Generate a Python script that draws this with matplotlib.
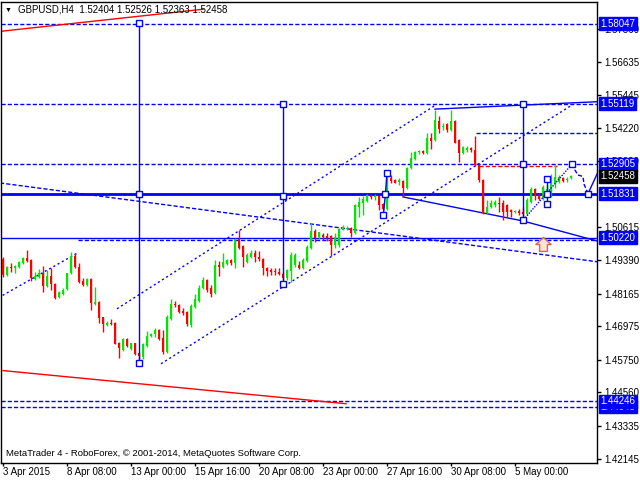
import matplotlib
matplotlib.use('Agg')
import matplotlib.pyplot as plt
import matplotlib.transforms as mtransforms
from matplotlib.path import Path

# GBPUSD H4 bars
opens = [1.4945, 1.4886, 1.4915, 1.4912, 1.4915, 1.4930, 1.4948, 1.4941, 1.4872, 1.4879,
         1.4894, 1.4846, 1.4883, 1.4854, 1.4806, 1.4817, 1.4835, 1.4894, 1.4956, 1.4915,
         1.4864, 1.4850, 1.4872, 1.4780, 1.4788, 1.4733, 1.4704, 1.4711, 1.4711, 1.4638,
         1.4613, 1.4653, 1.4616, 1.4638, 1.4602, 1.4587, 1.4627, 1.4664, 1.4671, 1.4686,
         1.4656, 1.4605, 1.4726, 1.4780, 1.4777, 1.4755, 1.4751, 1.4704, 1.4770, 1.4791,
         1.4839, 1.4868, 1.4839, 1.4821, 1.4923, 1.4915, 1.4926, 1.4941, 1.4930, 1.5018,
         1.4992, 1.4934, 1.4952, 1.4967, 1.4952, 1.4945, 1.4912, 1.4905, 1.4901, 1.4897,
         1.4890, 1.4875, 1.4901, 1.4923, 1.4923, 1.4912, 1.4937, 1.4985, 1.5047, 1.5025,
         1.5032, 1.5029, 1.5029, 1.4996, 1.4996, 1.5051, 1.5054, 1.5058, 1.5040, 1.5134,
         1.5149, 1.5156, 1.5175, 1.5171, 1.5175, 1.5146, 1.5127, 1.5240, 1.5233, 1.5226,
         1.5229, 1.5204, 1.5277, 1.5310, 1.5335, 1.5339, 1.5332, 1.5386, 1.5379, 1.5448,
         1.5426, 1.5437, 1.5416, 1.5448, 1.5379, 1.5332, 1.5343, 1.5350, 1.5343, 1.5288,
         1.5233, 1.5113, 1.5134, 1.5142, 1.5149, 1.5149, 1.5142, 1.5123, 1.5116, 1.5120,
         1.5116, 1.5109, 1.5153, 1.5200, 1.5178, 1.5164, 1.5178, 1.5171, 1.5222, 1.5226,
         1.5240, 1.5233, 1.52404]
highs = [1.4952, 1.4919, 1.4930, 1.4923, 1.4937, 1.4952, 1.4978, 1.4945, 1.4897, 1.4908,
         1.4919, 1.4905, 1.4912, 1.4857, 1.4828, 1.4839, 1.4894, 1.4970, 1.4967, 1.4930,
         1.4875, 1.4875, 1.4875, 1.4842, 1.4791, 1.4733, 1.4718, 1.4726, 1.4715, 1.4642,
         1.4656, 1.4656, 1.4638, 1.4638, 1.4605, 1.4638, 1.4682, 1.4675, 1.4693, 1.4689,
         1.4686, 1.4740, 1.4799, 1.4791, 1.4780, 1.4766, 1.4755, 1.4780, 1.4817, 1.4850,
         1.4879, 1.4872, 1.4850, 1.4941, 1.4937, 1.4967, 1.4945, 1.4945, 1.5021, 1.5051,
         1.4996, 1.4967, 1.4978, 1.4978, 1.4974, 1.4948, 1.4915, 1.4912, 1.4912, 1.4912,
         1.4897, 1.4908, 1.4970, 1.4967, 1.4937, 1.4948, 1.4996, 1.5076, 1.5054, 1.5043,
         1.5040, 1.5040, 1.5032, 1.5040, 1.5058, 1.5069, 1.5065, 1.5061, 1.5146, 1.5171,
         1.5175, 1.5182, 1.5182, 1.5182, 1.5178, 1.5149, 1.5251, 1.5251, 1.5237, 1.5240,
         1.5233, 1.5280, 1.5335, 1.5339, 1.5343, 1.5343, 1.5405, 1.5405, 1.5489, 1.5467,
         1.5441, 1.5441, 1.5489, 1.5452, 1.5383, 1.5357, 1.5357, 1.5353, 1.5394, 1.5291,
         1.5237, 1.5160, 1.5160, 1.5160, 1.5171, 1.5160, 1.5146, 1.5127, 1.5123, 1.5127,
         1.5134, 1.5167, 1.5207, 1.5204, 1.5186, 1.5215, 1.5215, 1.5255, 1.5288, 1.5251,
         1.5244, 1.5244, 1.52526]
lows = [1.4879, 1.4883, 1.4897, 1.4894, 1.4912, 1.4926, 1.4934, 1.4864, 1.4868, 1.4875,
        1.4824, 1.4842, 1.4832, 1.4799, 1.4802, 1.4813, 1.4832, 1.4890, 1.4912, 1.4857,
        1.4846, 1.4846, 1.4759, 1.4777, 1.4711, 1.4678, 1.4700, 1.4704, 1.4634, 1.4583,
        1.4609, 1.4624, 1.4613, 1.4594, 1.4580, 1.4580, 1.4624, 1.4660, 1.4660, 1.4649,
        1.4598, 1.4602, 1.4722, 1.4770, 1.4748, 1.4740, 1.4700, 1.4697, 1.4766, 1.4788,
        1.4835, 1.4824, 1.4806, 1.4817, 1.4883, 1.4912, 1.4923, 1.4923, 1.4912, 1.4981,
        1.4915, 1.4930, 1.4948, 1.4934, 1.4937, 1.4886, 1.4883, 1.4886, 1.4886, 1.4886,
        1.4868, 1.4868, 1.4861, 1.4915, 1.4908, 1.4908, 1.4934, 1.4981, 1.5007, 1.5018,
        1.5014, 1.5010, 1.4956, 1.4985, 1.4988, 1.5051, 1.5051, 1.5025, 1.5036, 1.5098,
        1.5105, 1.5153, 1.5164, 1.5160, 1.5123, 1.5123, 1.5123, 1.5222, 1.5222, 1.5215,
        1.5171, 1.5200, 1.5273, 1.5306, 1.5328, 1.5328, 1.5328, 1.5346, 1.5375, 1.5405,
        1.5416, 1.5408, 1.5412, 1.5368, 1.5299, 1.5328, 1.5335, 1.5335, 1.5284, 1.5226,
        1.5109, 1.5109, 1.5131, 1.5134, 1.5116, 1.5087, 1.5098, 1.5098, 1.5113, 1.5105,
        1.5098, 1.5105, 1.5149, 1.5160, 1.5160, 1.5160, 1.5167, 1.5171, 1.5204, 1.5222,
        1.5226, 1.5226, 1.52363]
closes = [1.4886, 1.4915, 1.4912, 1.4919, 1.4934, 1.4948, 1.4937, 1.4875, 1.4883, 1.4894,
          1.4846, 1.4883, 1.4854, 1.4802, 1.4824, 1.4832, 1.4894, 1.4956, 1.4915, 1.4861,
          1.4850, 1.4872, 1.4784, 1.4786, 1.4729, 1.4707, 1.4711, 1.4707, 1.4634, 1.4620,
          1.4653, 1.4627, 1.4638, 1.4598, 1.4591, 1.4634, 1.4664, 1.4671, 1.4686, 1.4653,
          1.4605, 1.4733, 1.4780, 1.4777, 1.4751, 1.4748, 1.4707, 1.4773, 1.4799, 1.4839,
          1.4868, 1.4832, 1.4817, 1.4923, 1.4915, 1.4934, 1.4941, 1.4930, 1.5018, 1.4985,
          1.4952, 1.4959, 1.4967, 1.4952, 1.4945, 1.4912, 1.4901, 1.4897, 1.4897, 1.4890,
          1.4875, 1.4905, 1.4959, 1.4959, 1.4912, 1.4941, 1.4988, 1.5047, 1.5021, 1.5043,
          1.5025, 1.5021, 1.4996, 1.5025, 1.5054, 1.5061, 1.5058, 1.5040, 1.5142, 1.5153,
          1.5164, 1.5178, 1.5171, 1.5175, 1.5142, 1.5127, 1.5240, 1.5229, 1.5222, 1.5233,
          1.5204, 1.5277, 1.5313, 1.5335, 1.5339, 1.5332, 1.5386, 1.5375, 1.5452, 1.5419,
          1.5430, 1.5416, 1.5448, 1.5368, 1.5332, 1.5353, 1.5350, 1.5343, 1.5288, 1.5233,
          1.5113, 1.5134, 1.5149, 1.5153, 1.5146, 1.5116, 1.5116, 1.5116, 1.5120, 1.5113,
          1.5109, 1.5160, 1.5200, 1.5175, 1.5164, 1.5207, 1.5200, 1.5226, 1.5244, 1.5244,
          1.5229, 1.5237, 1.52458]

date_pos = [0, 16, 32, 48, 64, 80, 96, 112, 128]
date_labels = ['3 Apr 2015', '8 Apr 08:00', '13 Apr 00:00', '15 Apr 16:00', '20 Apr 08:00',
               '23 Apr 00:00', '27 Apr 16:00', '30 Apr 08:00', '5 May 00:00']
price_ticks = [1.42145, 1.43335, 1.44560, 1.45750, 1.46975, 1.48165, 1.49390, 1.50615,
               1.53030, 1.54220, 1.55445, 1.56635, 1.57860]

# levels drawn on the chart
dash_levels = [1.58047, 1.55119, 1.52905, 1.44246, 1.44045]
support = 1.51831
low_level = 1.50220
tagged_levels = [1.44045, 1.44246, 1.50220, 1.51831, 1.52905, 1.55119, 1.58047]
last_price = 1.52458

# trend lines / channel anchors (bar index, price)
red_top_x, red_top_y = [-0.25, 50], [1.5777, 1.5857]
red_bot_x, red_bot_y = [0, 85.75], [1.4536, 1.4415]
chan_low_x, chan_low_y = [39.5, 142.25], [1.4561, 1.5507]
chan_up_x, chan_up_y = [28.5, 108.5], [1.4762, 1.5510]
chan_left_x, chan_left_y = [-0.1, 18.75], [1.4811, 1.4967]
desc_x, desc_y = [-0.75, 148.5], [1.5222, 1.4934]
flat_x, flat_y = [18.75, 148.5], [1.5013, 1.5013]
mid_x, mid_y = [118.25, 148.5], [1.5405, 1.5405]
red_dash_x, red_dash_y = [119, 138.5], [1.5285, 1.5285]
fall_x, fall_y = [100, 130, 148.5], [1.5171, 1.5083, 1.5010]
top_x, top_y = [108, 148.5], [1.5492, 1.5519]
# vertical targets with square handles
targets = [([34, 34, 34], [1.5805, 1.5182, 1.4565]),
           ([70.1, 70.1, 70.1], [1.5512, 1.5175, 1.4853]),
           ([96, 95.6, 95.1], [1.5259, 1.5182, 1.5105]),
           ([130.1, 130.1, 130.1], [1.5512, 1.5291, 1.5087]),
           ([136, 136, 136], [1.5237, 1.5183, 1.5145])]
proj_up_x, proj_up_y = [130.1, 142.25], [1.5087, 1.5291]
proj_wave_x = [142.25, 143, 143.75, 144.5, 145, 145.25, 146.25]
proj_wave_y = [1.5291, 1.5269, 1.5251, 1.5248, 1.5244, 1.5218, 1.5183]
proj_end_x, proj_end_y = [146.25, 149], [1.5183, 1.5270]
arrow_x, arrow_y = 135, 1.5000

plt.rcParams['font.family'] = ['Liberation Sans', 'DejaVu Sans']
plt.rcParams['lines.scale_dashes'] = False

blue = '#0000ff'
bull = '#00e600'
bear = '#ff0000'
dash = (0, (3, 1.5))
dots = (0, (1.5, 2))

fig = plt.figure(figsize=(6.4, 4.8), dpi=100)
ax = fig.add_axes([1 / 640, 17 / 480, 596 / 640, 461 / 480])

# candles
for i in range(len(closes)):
    o, h, l, c = opens[i], highs[i], lows[i], closes[i]
    col = bull if c >= o else bear
    ax.vlines(i, l, h, color=col, lw=1, zorder=3)
    ax.bar(i, max(abs(c - o), 0.00012), bottom=min(o, c), width=0.72,
           color=col, lw=0, zorder=3)

# horizontal levels
for lv in dash_levels:
    ax.axhline(lv, color=blue, lw=1, ls=dash, zorder=2)
ax.axhline(support, color=blue, lw=2, zorder=2)
ax.axhline(low_level, color=blue, lw=1, zorder=2)

# trend lines
ax.plot(red_top_x, red_top_y, color=bear, lw=1)
ax.plot(red_bot_x, red_bot_y, color=bear, lw=1)
ax.plot(chan_low_x, chan_low_y, color=blue, lw=1, ls=dots)
ax.plot(chan_up_x, chan_up_y, color=blue, lw=1, ls=dots)
ax.plot(chan_left_x, chan_left_y, color=blue, lw=1, ls=dots)
ax.plot(desc_x, desc_y, color=blue, lw=1, ls=dash)
ax.plot(flat_x, flat_y, color=blue, lw=1, ls=dash)
ax.plot(mid_x, mid_y, color=blue, lw=1, ls=dash)
ax.plot(red_dash_x, red_dash_y, color=bear, lw=1, ls=dash)
ax.plot(fall_x, fall_y, color=blue, lw=1)
ax.plot(top_x, top_y, color=blue, lw=1)

for xs, ys in targets:
    ax.plot(xs, ys, color=blue, lw=1, marker='s', ms=4, mfc='white', mec=blue, mew=1, zorder=5)
ax.plot(proj_up_x, proj_up_y, color=blue, lw=1, ls=(0, (1, 1)), zorder=4)
ax.plot(proj_wave_x, proj_wave_y, color=blue, lw=1, ls=dash, zorder=4)
ax.plot(proj_end_x, proj_end_y, color=blue, lw=1, zorder=4)
ax.plot([proj_wave_x[0], proj_wave_x[-1]], [proj_wave_y[0], proj_wave_y[-1]], 's', ms=4,
        mfc='white', mec=blue, mew=1, zorder=5)

# hollow "buy" arrow
up_arrow = Path([(-0.28, -0.5), (0.28, -0.5), (0.28, 0.0), (0.55, 0.0), (0.0, 0.5),
                 (-0.55, 0.0), (-0.28, 0.0), (-0.28, -0.5)], closed=True)
ax.plot([arrow_x], [arrow_y], marker=up_arrow, ms=11, mfc='#ffe4dc', mec='#e8604c',
        mew=1, ls='none', zorder=5)

ax.set_xlim(-0.5, 148.5)
ax.set_ylim(1.41982, 1.58836)

ax.yaxis.tick_right()
ax.set_yticks(price_ticks)
ax.set_yticklabels(['%.5f' % v for v in price_ticks])
ax.tick_params(axis='y', length=3, width=1, labelsize=7, pad=2)
ax.set_xticks(date_pos)
ax.set_xticklabels(date_labels)
ax.tick_params(axis='x', length=2, width=1, labelsize=7, pad=1)
for lbl in ax.get_xticklabels():
    lbl.set_ha('left')
for s in ax.spines.values():
    s.set_linewidth(1)

trans = mtransforms.blended_transform_factory(ax.transAxes, ax.transData)
for lv in tagged_levels:
    ax.text(1.006, lv, '%.5f' % lv, transform=trans, color='white', fontsize=7,
            va='center', ha='left', clip_on=False, zorder=10,
            bbox=dict(boxstyle='square,pad=0.15', fc=blue, ec=blue))
ax.text(1.006, last_price, '%.5f' % last_price, transform=trans, color='white', fontsize=7,
        va='center', ha='left', clip_on=False, zorder=10,
        bbox=dict(boxstyle='square,pad=0.15', fc='black', ec='black'))

fig.text(8 / 640, 1 - 10 / 480, '\u25bc', fontsize=5, va='center', ha='center')
fig.text(18 / 640, 1 - 10 / 480, 'GBPUSD,H4  1.52404 1.52526 1.52363 1.52458',
         fontsize=7, va='center')
fig.text(6 / 640, 1 - 453 / 480,
         'MetaTrader 4 - RoboForex, \u00a9 2001-2014, MetaQuotes Software Corp.',
         fontsize=6.8, va='center')

fig.savefig('out.png', dpi=100)
